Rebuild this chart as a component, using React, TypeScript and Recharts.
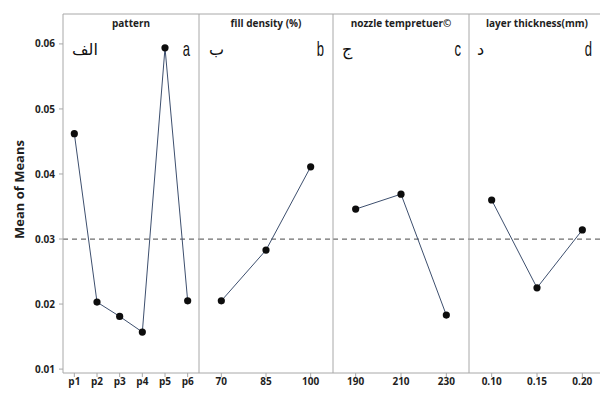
import React from 'react';
import { LineChart, Line, XAxis, YAxis, ReferenceLine } from 'recharts';

const patternLevels = ['p1', 'p2', 'p3', 'p4', 'p5', 'p6'];
const patternMeans = [0.0462, 0.0203, 0.0181, 0.0157, 0.0594, 0.0205];
const fillLevels = ['70', '85', '100'];
const fillMeans = [0.0205, 0.0283, 0.0411];
const nozzleLevels = ['190', '210', '230'];
const nozzleMeans = [0.0346, 0.0369, 0.0183];
const layerLevels = ['0.10', '0.15', '0.20'];
const layerMeans = [0.036, 0.0225, 0.0314];

const panelTitles = ['pattern', 'fill density (%)', 'nozzle tempretuer©', 'layer thickness(mm)'];
const arabicTags = ['الف', 'ب', 'ج', 'د'];
const latinTags = ['a', 'b', 'c', 'd'];
const yTicks = [0.01, 0.02, 0.03, 0.04, 0.05, 0.06];
const grandMean = 0.03;
const yDomain: [number, number] = [0.0094, 0.0646];

const levelsList = [patternLevels, fillLevels, nozzleLevels, layerLevels];
const meansList = [patternMeans, fillMeans, nozzleMeans, layerMeans];

// layout
const H = 394;
const TOP = 13;
const XAXIS_H = 21;
const YAXIS_W = 63;
const SIDE_W = 1;
const panelLeft = [63, 199, 333, 469];
const panelWidth = [136, 134, 136, 136];
const arabicLeft = [72, 209, 342, 477];
const latinRight = [190, 324, 461, 592];

const FRAME = '#a8a8a8';
const LINE = '#3d4f6e';
const TEXT = '#1e1e1e';
const FONT = '"Open Sans", "Noto Sans", sans-serif';

function Panel({ idx }: { idx: number }) {
  const levels = levelsList[idx];
  const means = meansList[idx];
  const data = levels.map((l, i) => ({ level: l, mean: means[i] }));
  const first = idx === 0;
  const yw = first ? YAXIS_W : SIDE_W;
  const w = panelWidth[idx] + yw;
  const pad = panelWidth[idx] / (2 * levels.length);
  return (
    <div style={{ position: 'absolute', left: panelLeft[idx] - yw, top: 0 }}>
      <LineChart width={w} height={H} data={data} margin={{ top: TOP, right: 0, bottom: 0, left: 0 }}>
        <XAxis
          dataKey="level"
          type="category"
          interval={0}
          height={XAXIS_H}
          padding={{ left: pad, right: pad }}
          tickSize={4}
          tickMargin={1}
          axisLine={{ stroke: FRAME }}
          tickLine={{ stroke: FRAME }}
          tick={{ fontSize: 10, fontWeight: 700, fill: TEXT, fontFamily: FONT }}
        />
        <XAxis
          xAxisId="top"
          orientation="top"
          dataKey="level"
          height={1}
          tick={false}
          tickLine={false}
          axisLine={{ stroke: FRAME }}
        />
        {first ? (
          <YAxis
            width={YAXIS_W}
            domain={yDomain}
            ticks={yTicks}
            tickFormatter={(v: number) => v.toFixed(2)}
            tickSize={4}
            tickMargin={4}
            axisLine={{ stroke: FRAME }}
            tickLine={{ stroke: FRAME }}
            tick={{ fontSize: 10, fontWeight: 700, fill: TEXT, fontFamily: FONT }}
            label={{
              content: (p: any) => {
                const vb = p.viewBox || {};
                const cx = 19;
                const cy = (vb.y ?? TOP) + (vb.height ?? 359) / 2 - 4;
                return (
                  <text
                    x={cx}
                    y={cy}
                    transform={`rotate(-90 ${cx} ${cy})`}
                    textAnchor="middle"
                    dominantBaseline="central"
                    fontSize={13}
                    fontWeight={700}
                    fill={TEXT}
                    fontFamily={FONT}
                  >
                    Mean of Means
                  </text>
                );
              },
            }}
          />
        ) : (
          <YAxis
            width={SIDE_W}
            domain={yDomain}
            ticks={yTicks}
            tick={false}
            tickLine={false}
            axisLine={{ stroke: FRAME }}
          />
        )}
        <ReferenceLine y={grandMean} stroke="#6e6e6e" strokeDasharray="5 4" strokeWidth={1.2} />
        <Line
          type="linear"
          dataKey="mean"
          stroke={LINE}
          strokeWidth={1}
          dot={{ r: 3.6, fill: '#0d0d0d', stroke: '#0d0d0d', strokeWidth: 0 }}
          isAnimationActive={false}
        />
      </LineChart>
    </div>
  );
}

export default function App() {
  return (
    <div style={{ position: 'absolute', left: 0, top: 0, width: 600, height: H, overflow: 'hidden', background: '#fff' }}>
      {panelTitles.map((_, i) => (
        <Panel key={i} idx={i} />
      ))}
      {panelTitles.map((t, i) => (
        <div
          key={'t' + i}
          style={{
            position: 'absolute',
            left: panelLeft[i],
            width: panelWidth[i],
            top: 16,
            textAlign: 'center',
            fontSize: 10,
            fontWeight: 700,
            lineHeight: '14px',
            fontFamily: FONT,
            color: TEXT,
            whiteSpace: 'nowrap',
          }}
        >
          {t}
        </div>
      ))}
      {arabicTags.map((t, i) => (
        <div
          key={'ar' + i}
          dir="rtl"
          style={{
            position: 'absolute',
            left: arabicLeft[i],
            top: 39,
            fontSize: 16,
            lineHeight: '22px',
            fontFamily: '"DejaVu Sans", sans-serif',
            color: '#111',
            whiteSpace: 'nowrap',
          }}
        >
          {t}
        </div>
      ))}
      {latinTags.map((t, i) => (
        <div
          key={'la' + i}
          style={{
            position: 'absolute',
            left: latinRight[i] - 40,
            width: 40,
            top: 36,
            textAlign: 'right',
            fontSize: 21,
            lineHeight: '26px',
            fontFamily: '"Liberation Sans", sans-serif',
            color: '#111',
            whiteSpace: 'nowrap',
            transform: 'scaleX(0.62)',
            transformOrigin: 'right center',
          }}
        >
          {t}
        </div>
      ))}
    </div>
  );
}
